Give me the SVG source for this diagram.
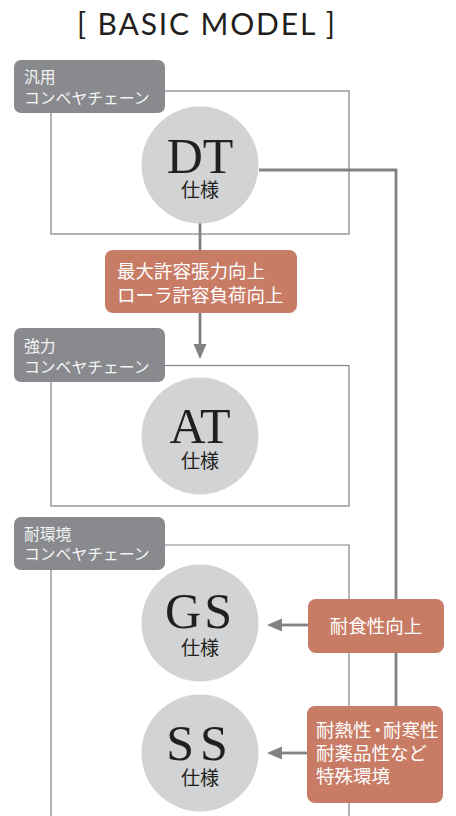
<svg xmlns="http://www.w3.org/2000/svg" width="456" height="816" viewBox="0 0 456 816">
<style>
.frame{fill:none;stroke:#808285;stroke-width:1.2}
.lbl{fill:#898a8e}
.lt{fill:#f4f4f4;font-family:"Noto Sans CJK JP","Noto Sans",sans-serif;font-size:15.8px}
.circ{fill:#d1d3d4}
.big{fill:#231f20;font-family:"Liberation Serif",serif;font-size:50px;text-anchor:middle}
.sm{fill:#231f20;font-family:"Noto Sans CJK JP",sans-serif;font-size:19px;text-anchor:middle}
.ob{fill:#c97c65}
.ot{fill:#ffffff;font-family:"Noto Sans CJK JP",sans-serif;font-size:18.5px}
.con{fill:none;stroke:#808285;stroke-width:2.8}
.ah{fill:#808285}
</style>
<rect width="456" height="816" fill="#ffffff"/>
<text x="206" y="35" text-anchor="middle" textLength="258" lengthAdjust="spacing" font-family="Lato,'Noto Sans',sans-serif" font-weight="400" font-size="30" fill="#231f20">[ BASIC MODEL ]</text>

<g id="connectors">
<polyline class="con" points="259,170 396,170 396,710"/>
<line class="con" x1="200" y1="222" x2="200" y2="252"/>
<line class="con" x1="200" y1="312" x2="200" y2="346"/>
<polygon class="ah" points="193.5,344 206.5,344 200,359"/>
<line class="con" x1="310" y1="625" x2="280" y2="625"/>
<polygon class="ah" points="282,618.5 282,631.5 267,625"/>
<line class="con" x1="310" y1="753" x2="280" y2="753"/>
<polygon class="ah" points="282,746.5 282,759.5 267,753"/>
</g>

<g id="group-general">
<rect class="frame" x="51" y="91" width="298" height="143"/>
<rect class="lbl" x="14" y="60" width="151" height="53" rx="7"/>
<text class="lt" x="24" y="83">汎用</text>
<text class="lt" x="24" y="104">コンベヤチェーン</text>
</g>
<g id="node-dt">
<circle class="circ" cx="200" cy="165" r="58.5"/>
<text class="big" x="200" y="173">DT</text>
<text class="sm" x="200" y="197">仕様</text>
</g>

<g id="label-strength">
<rect class="ob" x="105" y="250" width="192" height="63" rx="8"/>
<text class="ot" x="117" y="278">最大許容張力向上</text>
<text class="ot" x="117" y="302">ローラ許容負荷向上</text>
</g>

<g id="group-strong">
<rect class="frame" x="51" y="365.5" width="298" height="140.5"/>
<rect class="lbl" x="14" y="328" width="151" height="54" rx="7"/>
<text class="lt" x="24" y="352">強力</text>
<text class="lt" x="24" y="373">コンベヤチェーン</text>
</g>
<g id="node-at">
<circle class="circ" cx="200" cy="436" r="58.5"/>
<text class="big" x="200" y="443">AT</text>
<text class="sm" x="200" y="468">仕様</text>
</g>

<g id="group-env">
<polyline class="frame" points="51,816 51,545 349,545 349,816"/>
<rect class="lbl" x="14" y="517" width="151" height="53" rx="7"/>
<text class="lt" x="24" y="540">耐環境</text>
<text class="lt" x="24" y="560">コンベヤチェーン</text>
</g>
<g id="node-gs">
<circle class="circ" cx="200" cy="623" r="58.5"/>
<text class="big" x="200" y="628" letter-spacing="3">GS</text>
<text class="sm" x="200" y="655">仕様</text>
</g>
<g id="node-ss">
<circle class="circ" cx="200" cy="753" r="58.5"/>
<text class="big" x="200" y="760" letter-spacing="6">SS</text>
<text class="sm" x="200" y="785">仕様</text>
</g>

<g id="label-corrosion">
<rect class="ob" x="308" y="599" width="136" height="54" rx="8"/>
<text class="ot" x="376" y="633" text-anchor="middle">耐食性向上</text>
</g>
<g id="label-special">
<rect class="ob" x="307" y="706" width="136" height="97" rx="8"/>
<text class="ot" x="316" y="737">耐熱性<tspan dx="-3">・</tspan><tspan dx="-4">耐寒性</tspan></text>
<text class="ot" x="316" y="760">耐薬品性など</text>
<text class="ot" x="316" y="783">特殊環境</text>
</g>
</svg>
